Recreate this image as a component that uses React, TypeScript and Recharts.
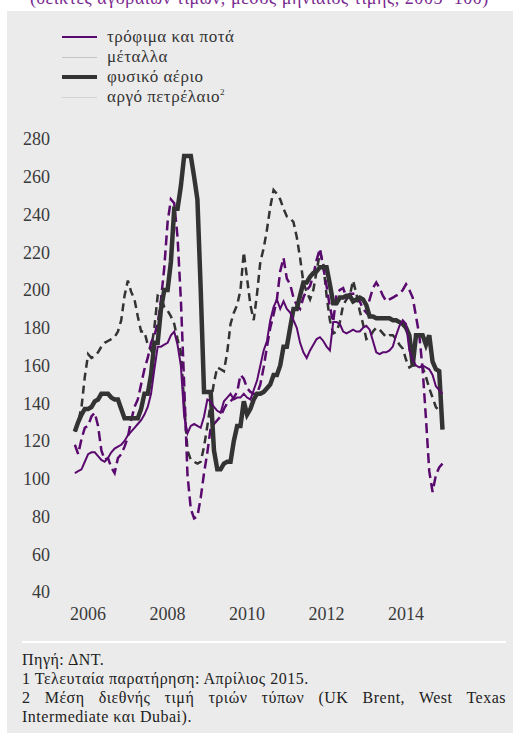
import React from "react";
import { LineChart, Line, XAxis, YAxis } from "recharts";

// monthly observations, Jan 2006 .. Apr 2015
const months: string[] = [];
for (let y = 2006; y <= 2015; y++) {
  for (let m = 1; m <= 12; m++) {
    if (months.length < 112) months.push(`${y}-${String(m).padStart(2, "0")}`);
  }
}

const yearLabels = ["2006", "2008", "2010", "2012", "2014"];
const valueTicks = [40, 60, 80, 100, 120, 140, 160, 180, 200, 220, 240, 260, 280];

// τρόφιμα και ποτά
const food = [
  103, 104, 105, 109, 113, 114, 114, 112, 110, 109, 111, 114,
  116, 117, 118, 120, 123, 125, 127, 129, 131, 134, 138, 145,
  158, 170, 170, 171, 172, 176, 178, 171, 160, 133, 124, 128,
  129, 128, 127, 133, 142, 141, 138, 136, 135, 141, 143, 145,
  142, 143, 143, 145, 143, 142, 147, 152, 160, 168, 173, 184,
  191, 195, 190, 194, 190, 188, 184, 180, 172, 167, 164, 168,
  171, 174, 175, 173, 170, 168, 183, 183, 182, 178, 177, 178,
  179, 178, 178, 180, 181, 179, 173, 167, 166, 167, 167, 168,
  170, 176, 181, 184, 182, 168, 163, 160, 159, 160, 159, 158,
  155, 149, 147, 145,
];

// μέταλλα
const metals = [
  125, 130, 138, 154, 166, 164, 165, 167, 170, 172, 173, 174,
  175, 178, 184, 197, 205, 199, 195, 186, 178, 178, 171, 168,
  180, 197, 196, 191, 189, 186, 182, 174, 167, 140, 115, 110,
  109, 108, 109, 117, 128, 140, 151, 159, 158, 157, 167, 182,
  188, 192, 200, 220, 206, 192, 184, 198, 215, 222, 232, 244,
  253, 251, 248, 243, 239, 238, 236, 228, 217, 204, 199, 195,
  200, 210, 220, 214, 197, 184, 177, 178, 183, 192, 195, 197,
  205, 198, 189, 182, 174, 175, 178, 180, 179, 177, 175, 176,
  176, 174, 171, 169, 163, 159, 160, 160, 160, 159, 154, 148,
  143, 138, 136, null,
];

// φυσικό αέριο
const gas = [
  125, 130, 134, 137, 137, 138, 141, 142, 145, 145, 145, 143,
  142, 142, 137, 132, 132, 132, 132, 132, 137, 145, 145, 155,
  172, 172, 190, 200, 200, 215, 243, 243, 255, 271, 271, 271,
  260, 248, 200, 146, 146, 146, 115, 105, 105, 108, 109, 109,
  120, 128, 128, 141, 134, 137, 142, 145, 145, 146, 148, 150,
  155, 155, 160, 170, 170, 180, 190, 190, 197, 204, 204, 207,
  209, 210, 212, 212, 212, 203, 193, 193, 196, 196, 197, 197,
  194, 195, 196, 195, 192, 186, 186, 185, 185, 185, 185, 185,
  184, 184, 183, 182, 180, 176, 160, 176, 176, 176, 171, 176,
  162, 158, 157, 126,
];

// αργό πετρέλαιο
const oil = [
  118, 113, 121, 127, 128, 133, 135, 128, 115, 110, 111, 106,
  103, 111, 113, 117, 122, 131, 138, 142, 150, 158, 164, 172,
  176, 182, 195, 212, 236, 248, 246, 228, 195, 150, 102, 84,
  79, 80, 90, 103, 114, 127, 129, 131, 133, 137, 140, 141,
  143, 146, 155, 153, 148, 146, 145, 145, 150, 159, 170, 180,
  187, 195, 210, 217, 206, 203, 196, 192, 190, 196, 200, 202,
  208, 216, 222, 212, 202, 191, 183, 198, 200, 201, 196, 198,
  198, 198, 194, 190, 188, 195, 201, 204, 201, 197, 194, 195,
  196, 197, 198, 200, 203, 200, 196, 186, 176, 158, 132, 104,
  93, 102, 106, 108,
];

const data = months.map((mo, i) => ({
  m: i,
  month: mo,
  food: food[i],
  metals: metals[i],
  gas: gas[i],
  oil: oil[i],
}));

const yearTicks = yearLabels.map((y) => months.indexOf(`${y}-05`));

const PURPLE = "#5a0a6e";
const DARK = "#333333";
const SERIF = "'Liberation Serif', 'Noto Serif', 'DejaVu Serif', 'Times New Roman', Times, serif";

const legendItems = [
  { label: "τρόφιμα και ποτά", color: PURPLE, width: 2, sup: "" },
  { label: "μέταλλα", color: "#c4c4c4", width: 1, sup: "" },
  { label: "φυσικό αέριο", color: DARK, width: 4, sup: "" },
  { label: "αργό πετρέλαιο", color: "#d2d2d2", width: 1, sup: "2" },
];

const tickStyle = { fontSize: 18, fill: "#3a3a3a", fontFamily: SERIF };

export default function App() {
  return (
    <div
      style={{
        position: "absolute",
        left: 0,
        top: 0,
        width: 513,
        height: 733,
        background: "#ffffff",
        overflow: "hidden",
        fontFamily: SERIF,
      }}
    >
      <div
        style={{
          position: "absolute",
          left: 30,
          top: -12,
          width: 460,
          fontSize: 18,
          lineHeight: "20px",
          letterSpacing: 0.55,
          color: "#7a2a90",
          whiteSpace: "nowrap",
        }}
      >
        (δείκτες αγοραίων τιμών, μέσος μηνιαίος τιμής, 2005=100)
      </div>
      <div
        style={{
          position: "absolute",
          left: 7,
          top: 11,
          width: 506,
          height: 722,
          background: "#ebebeb",
        }}
      />

      {/* legend */}
      {legendItems.map((it, k) => (
        <div
          key={it.label}
          style={{
            position: "absolute",
            left: 62,
            top: 27 + k * 20,
            height: 20,
            display: "flex",
            alignItems: "center",
            fontSize: 17,
            letterSpacing: 0.5,
            color: "#333",
            whiteSpace: "nowrap",
          }}
        >
          <div style={{ width: 35, height: it.width, background: it.color, marginRight: 10 }} />
          <span>
            {it.label}
            {it.sup && <sup style={{ fontSize: 9 }}>{it.sup}</sup>}
          </span>
        </div>
      ))}

      <div style={{ position: "absolute", left: 0, top: 0 }}>
        <LineChart
          width={513}
          height={640}
          data={data}
          margin={{ top: 139, left: 10, right: 0, bottom: 0 }}
        >
          <XAxis
            dataKey="m"
            type="number"
            domain={[-6, 119]}
            ticks={yearTicks}
            tickFormatter={(v: number) => yearLabels[yearTicks.indexOf(v)] ?? ""}
            axisLine={false}
            tickLine={false}
            tickSize={0}
            tickMargin={15}
            height={48}
            tick={tickStyle}
            interval={0}
          />
          <YAxis
            yAxisId="l"
            orientation="left"
            domain={[40, 280]}
            ticks={valueTicks}
            axisLine={false}
            tickLine={false}
            tickSize={0}
            tickMargin={5}
            width={45}
            tick={tickStyle}
            interval={0}
          />
          <YAxis
            yAxisId="r"
            orientation="right"
            domain={[40, 280]}
            ticks={valueTicks}
            axisLine={false}
            tickLine={false}
            tickSize={0}
            tickMargin={11}
            width={44}
            tick={{ ...tickStyle, textAnchor: "start" }}
            interval={0}
          />
          <Line
            yAxisId="l"
            type="linear"
            dataKey="metals"
            stroke={DARK}
            strokeWidth={2.5}
            strokeDasharray="8 5"
            dot={false}
            isAnimationActive={false}
          />
          <Line
            yAxisId="l"
            type="linear"
            dataKey="oil"
            stroke={PURPLE}
            strokeWidth={2.5}
            strokeDasharray="10 5"
            dot={false}
            isAnimationActive={false}
          />
          <Line
            yAxisId="l"
            type="linear"
            dataKey="gas"
            stroke={DARK}
            strokeWidth={4.5}
            dot={false}
            isAnimationActive={false}
          />
          <Line
            yAxisId="l"
            type="linear"
            dataKey="food"
            stroke={PURPLE}
            strokeWidth={2}
            dot={false}
            isAnimationActive={false}
          />
        </LineChart>
      </div>

      <div
        style={{
          position: "absolute",
          left: 22,
          top: 641,
          width: 484,
          height: 2,
          background: "#ffffff",
        }}
      />
      <div
        style={{
          position: "absolute",
          left: 22,
          top: 650,
          width: 484,
          fontSize: 16,
          letterSpacing: 0.5,
          lineHeight: "19px",
          color: "#222",
        }}
      >
        <div>Πηγή: ΔΝΤ.</div>
        <div>1 Τελευταία παρατήρηση: Απρίλιος 2015.</div>
        <div style={{ textAlign: "justify", textAlignLast: "justify", whiteSpace: "nowrap" }}>
          2 Μέση διεθνής τιμή τριών τύπων (UK Brent, West Texas
        </div>
        <div>Intermediate και Dubai).</div>
      </div>
    </div>
  );
}
